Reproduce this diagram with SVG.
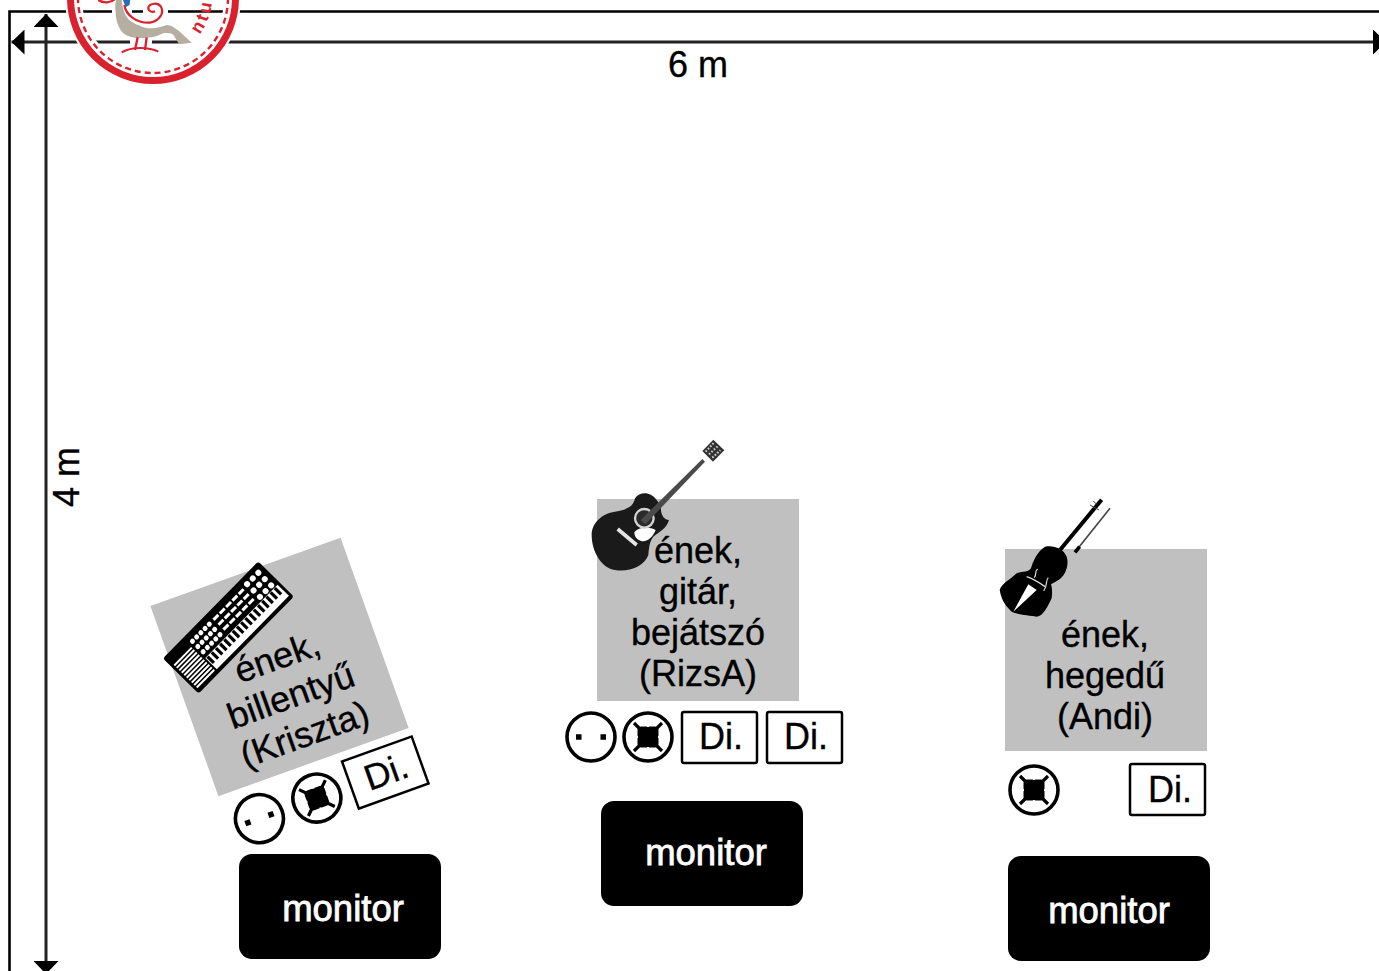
<svg xmlns="http://www.w3.org/2000/svg" width="1379" height="971" viewBox="0 0 1379 971">
<style>
text{font-family:"Liberation Sans",Arial,sans-serif;font-size:36px;fill:#000;stroke:#000;stroke-width:.35;text-anchor:middle}
.mon{fill:#000}
text.mont{fill:#fff;stroke:#fff;stroke-width:.8;font-size:36.500px}
.stage{fill:#c0c0c0}
.di{fill:#fff;stroke:#000;stroke-width:2.5}
.ring{fill:#fff;stroke:#000;stroke-width:3.6}
.line{stroke:#000;stroke-width:2.6;fill:none}
.dim{stroke:#222;stroke-width:3;fill:none;marker-start:url(#ah);marker-end:url(#ah)}
</style>
<defs>
<marker id="ah" viewBox="0 0 13 25" refX="13" refY="12.5" markerWidth="13" markerHeight="25" markerUnits="userSpaceOnUse" orient="auto-start-reverse"><path d="M13,12.5 L0,0 V25 Z" fill="#000"/></marker>
<g id="socket"><circle class="ring" r="24"/><path d="M-15,-2.750h5.500v5.500h-5.500zM9.500,-2.750h5.500v5.500h-5.500z" fill="#000"/></g>
<g id="xlr"><circle class="ring" r="24"/><rect x="-10.500" y="-10.500" width="21" height="21" rx="4" fill="#000"/><path d="M-14,-14L14,14M14,-14L-14,14" stroke="#000" stroke-width="3.200"/><path d="M0,-14V-10M0,10V14M-14,0H-10M10,0H14" stroke="#fff" stroke-width="2"/></g>
</defs>

<g id="frame"><path class="line" d="M1379,11.500 H9.500 V971"/></g>

<g id="connectors">
<path class="dim" d="M11.500,42 H1386"/>
<path class="dim" d="M46,14 V974"/>
</g>
<text x="698" y="77">6 m</text>
<text transform="translate(79,477) rotate(-90)">4 m</text>

<g id="logo">
<circle cx="153" cy="-2" r="79.500" fill="none" stroke="#fff" stroke-width="17"/>
<path d="M112,9h20v5h-20zM143,9h25v5h-25zM130,40h22v5h-22zM180,40h35v5h-35z" fill="#fff"/>
<circle cx="153" cy="-2" r="82.500" fill="none" stroke="#d9222e" stroke-width="7"/>
<circle cx="153" cy="-2" r="75" fill="none" stroke="#d9222e" stroke-width="2.400" stroke-dasharray="6 4"/>
<g transform="translate(95,0) scale(.3333)">
<path d="M65,-5 C60,10 60,30 62,35 C62,60 70,85 85,100 C100,112 125,118 170,112 C185,110 195,104 205,100 C220,98 232,100 236,106 L252,133 L290,128 C280,118 272,112 265,105 C255,95 248,90 240,85 C232,78 222,75 215,75 C200,80 185,85 170,85 C155,85 140,82 130,75 C115,70 100,60 95,50 C85,35 82,20 80,-5 Z" fill="#b7aea2"/>
<path d="M82,-5 L106,-5 L104,14 L92,22 Z" fill="#2a6fb5"/>
<path d="M10,0 C25,10 48,10 62,-5" fill="none" stroke="#d9222e" stroke-width="7"/>
<path d="M88,15 C92,45 125,70 165,68 C195,62 208,38 198,20 C188,6 165,10 160,22 C158,32 170,38 180,34" fill="none" stroke="#d9222e" stroke-width="6.500"/>
<path d="M128,112 L120,150 M155,112 L150,150" stroke="#d9222e" stroke-width="7" fill="none"/>
<path d="M80,157 C110,140 160,140 190,155" stroke="#d9222e" stroke-width="6" fill="none"/>
</g>
<path id="lg-arc" d="M198.200,35.900 A59,59 0 0 0 208.400,-22.200" fill="none"/>
<text style="font-weight:700;font-size:18px;letter-spacing:3px;fill:#d9222e;stroke:none;text-anchor:start"><textPath href="#lg-arc" startOffset="2">ntu</textPath></text>
</g>

<g id="performer-kriszta" transform="translate(279.500,667) rotate(-19.700)">
<rect class="stage" x="-101" y="-101" width="202" height="202"/>
<text x="1" y="2">ének,</text>
<text x="1" y="43">billentyű</text>
<text x="1" y="84">(Kriszta)</text>
<use href="#socket" x="-70" y="136"/>
<use href="#xlr" x="-9" y="136"/>
<rect class="di" x="27" y="110" width="74" height="50"/>
<text x="65" y="147">Di.</text>
</g>

<g id="keyboard" transform="translate(228.400,627.500) rotate(-45.500)">
<rect x="-68" y="-25" width="136" height="50" rx="3" fill="#000"/>
<rect x="-38" y="5" width="103" height="16" fill="#fff"/>
<path d="M-37,10 H64" stroke="#000" stroke-width="9" stroke-dasharray="3.200 2.800"/>
<path d="M-65,-12 H-40 M-65,-8.500 H-40 M-65,-5 H-40 M-65,-1.500 H-40 M-65,2 H-40 M-65,5.500 H-40 M-65,9 H-40 M-65,12.500 H-40 M-65,16 H-40 M-65,19.500 H-40" stroke="#fff" stroke-width="2"/>
<path d="M-35,-16 H-10 M-35,-8.500 H-10 M-35,-1 H-10" stroke="#fff" stroke-width="5" stroke-linecap="round" stroke-dasharray="0 6"/>
<path d="M-5,-16 H38 M-5,-9 H38 M-5,-2 H38" stroke="#fff" stroke-width="3" stroke-dasharray="7 2"/>
<path d="M44,-17 H62 M44,-8 H62 M44,1 H62" stroke="#fff" stroke-width="6" stroke-linecap="round" stroke-dasharray="0 8"/>
</g>

<g id="performer-rizsa">
<rect class="stage" x="597" y="499" width="202" height="202"/>
<text x="698" y="563">ének,</text>
<text x="698" y="604">gitár,</text>
<text x="698" y="645">bejátszó</text>
<text x="698" y="686">(RizsA)</text>
<use href="#socket" x="591" y="737"/>
<use href="#xlr" x="648" y="737"/>
<rect class="di" x="682" y="712" width="75" height="51" rx="2"/>
<text x="721" y="749">Di.</text>
<rect class="di" x="767" y="712" width="75" height="51" rx="2"/>
<text x="806" y="749">Di.</text>
</g>

<g id="guitar" transform="translate(585,435) scale(.3333)">
<path d="M150,190 C165,168 198,170 215,195 L228,212 C225,240 238,255 252,255 C245,282 220,292 205,305 C193,320 192,340 190,360 C178,395 130,412 90,405 C50,400 20,350 20,300 C20,265 50,235 90,230 C125,225 145,215 150,190Z" fill="#1a1a1a"/>
<path d="M148,292 C160,275 195,275 212,285 C204,305 188,322 168,318 C154,314 148,303 148,292Z" fill="#fff"/>
<path d="M98,282 L155,330" stroke="#e4e4e4" stroke-width="11"/>
<circle cx="178" cy="250" r="28" fill="#2b2b2b" stroke="#d4d4d4" stroke-width="7"/>
<path d="M167,255 L181,268 L360,80 L352,72Z" fill="#4a4a4a"/>
<path d="M352,48 L385,14 L418,46 L384,80Z" fill="#333"/>
<path d="M362,50 L386,24 M372,58 L398,34 M382,68 L406,46" stroke="#ccc" stroke-width="6" stroke-dasharray="5 5"/>
</g>

<g id="performer-andi">
<rect class="stage" x="1005" y="549" width="202" height="202"/>
<text x="1105" y="647">ének,</text>
<text x="1105" y="688">hegedű</text>
<text x="1105" y="729">(Andi)</text>
<use href="#xlr" x="1034" y="790"/>
<rect class="di" x="1130" y="764" width="75" height="51" rx="2"/>
<text x="1170" y="802">Di.</text>
</g>

<g id="violin" transform="translate(995,495) scale(.3333)">
<path d="M195,165 L320,14" stroke="#000" stroke-width="12"/>
<path d="M285,30 L312,45 M295,18 L305,28" stroke="#444" stroke-width="3"/>
<path d="M245,165 L345,40" stroke="#444" stroke-width="5"/>
<path d="M240,172 L254,155" stroke="#000" stroke-width="11"/>
<path d="M150,155 C175,150 205,160 215,185 C222,205 215,235 195,252 C185,258 178,262 168,268 C172,280 172,295 170,310 C160,330 145,365 125,365 C105,362 70,360 50,350 C35,335 20,320 14,285 C20,265 45,255 65,235 C85,228 100,232 108,220 C112,205 125,170 150,155Z" fill="#000"/>
<path d="M100,268 L125,285 L55,350Z" fill="#fff"/>
<path d="M95,245 C110,250 140,268 150,275" stroke="#ddd" stroke-width="4" fill="none"/>
<path d="M128,222 C118,228 126,238 118,248 M160,248 C150,258 160,268 146,288" stroke="#ddd" stroke-width="3.500" fill="none"/>
</g>

<g id="monitor-1"><rect class="mon" x="239" y="854" width="202" height="105" rx="13"/><text class="mont" x="343" y="921">monitor</text></g>
<g id="monitor-2"><rect class="mon" x="601" y="801" width="202" height="105" rx="13"/><text class="mont" x="706" y="865">monitor</text></g>
<g id="monitor-3"><rect class="mon" x="1008" y="856" width="202" height="105" rx="13"/><text class="mont" x="1109" y="923">monitor</text></g>
</svg>
